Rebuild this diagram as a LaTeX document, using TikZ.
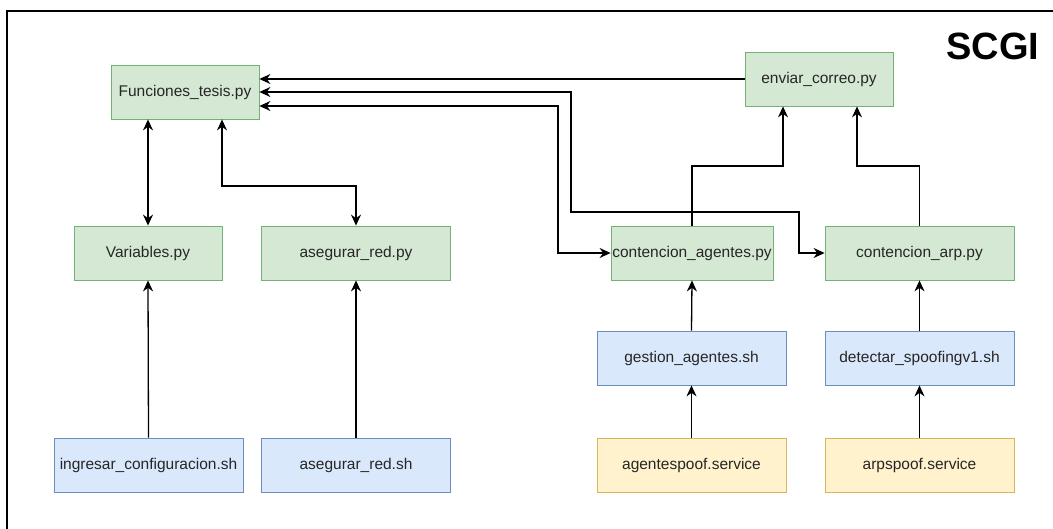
\documentclass[tikz,border=0pt]{standalone}
\usepackage{fontspec}
\setmainfont{Liberation Sans}
\usetikzlibrary{arrows.meta}

\begin{document}
\begin{tikzpicture}[x=1pt,y=-1pt,
        every node/.style={font=\fontsize{15.5}{18}\selectfont, text=black!85, inner sep=0pt, minimum height=54pt},
        pyfile/.style={draw=green!45!black!55, fill={rgb,255:red,213;green,232;blue,212}, line width=0.8pt},
        shfile/.style={draw={rgb,255:red,108;green,142;blue,191}, fill={rgb,255:red,218;green,232;blue,252}, line width=0.8pt},
        svcfile/.style={draw={rgb,255:red,214;green,182;blue,86}, fill={rgb,255:red,255;green,242;blue,204}, line width=0.8pt},
        flow/.style={line width=1.3pt, -{Stealth[length=11pt,width=10pt]}},
        flowboth/.style={line width=1.3pt, {Stealth[length=11pt,width=10pt]}-{Stealth[length=11pt,width=10pt]}}]
    \useasboundingbox (0,0) rectangle (1053,529);
    \draw[line width=1.4pt] (7,529) -- (7,11) -- (1053,11);

    \node (scgi) at (993,46) [minimum height=0pt, font=\fontsize{38}{40}\selectfont\bfseries, text=black] {SCGI};

    \node[pyfile, minimum width=148pt] (fun)      at (185,92)    {Funciones\_tesis.py};
    \node[pyfile, minimum width=148pt] (enviar)   at (819,79)    {enviar\_correo.py};
    \node[pyfile, minimum width=148pt] (var)      at (148,253)   {Variables.py};
    \node[pyfile, minimum width=189pt] (asegpy)   at (356,253)   {asegurar\_red.py};
    \node[pyfile, minimum width=162pt] (contag)   at (692,253)   {contencion\_agentes.py};
    \node[pyfile, minimum width=189pt] (contarp)  at (919.5,253) {contencion\_arp.py};

    \node[shfile, minimum width=189pt] (gestion)  at (691.5,358) {gestion\_agentes.sh};
    \node[shfile, minimum width=189pt] (detectar) at (919.5,358) {detectar\_spoofingv1.sh};
    \node[shfile, minimum width=189pt] (ingresar) at (148.5,465) {ingresar\_configuracion.sh};
    \node[shfile, minimum width=189pt] (asegsh)   at (356,465)   {asegurar\_red.sh};

    \node[svcfile, minimum width=189pt] (agspoof)  at (691.5,465) {agentespoof.service};
    \node[svcfile, minimum width=189pt] (arpspoof) at (919.5,465) {arpspoof.service};

    \draw[flow] (enviar.west) -- (enviar.west -| fun.east);
    \draw[flowboth] (fun.east) -- (571,92) -- (571,212) -- (799,212) |- (contarp.west);
    \draw[flowboth] ([yshift=-14pt]fun.east) -| (558,253) -- (contag.west);
    \draw[flow] (contag.north) |- (783,166) -- ([xshift=-36pt]enviar.south);
    \draw[flow] (contarp.north) |- (857,166) -- ([xshift=38pt]enviar.south);

    \draw[flowboth] (var.north) -- (var.north |- fun.south);
    \draw[flowboth] ([xshift=37pt]fun.south) |- (356,186) -- (asegpy.north);

    \draw[flow] (ingresar.north) -- (var.south);
    \draw[flow] (asegsh.north) -- (asegpy.south);
    \draw[flow] (gestion.north) -- (contag.south);
    \draw[flow] (agspoof.north) -- (gestion.south);
    \draw[flow] (detectar.north) -- (contarp.south);
    \draw[flow] (arpspoof.north) -- (detectar.south);
\end{tikzpicture}
\end{document}
